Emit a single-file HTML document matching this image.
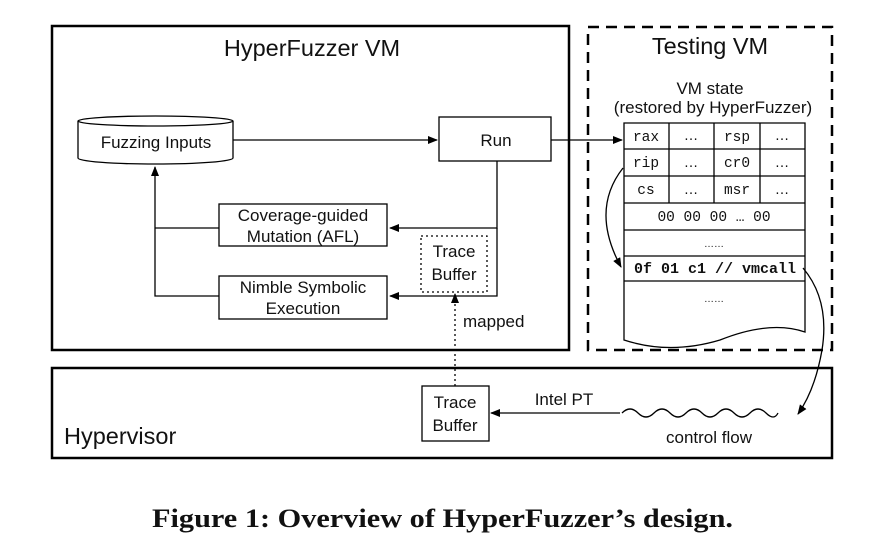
<!DOCTYPE html>
<html><head><meta charset="utf-8"><style>
html,body{margin:0;padding:0;background:#fff;}
svg{display:block;}
text{font-family:"Liberation Sans",sans-serif;fill:#111;}
.m{font-family:"Liberation Mono",monospace;}
</style></head><body>
<svg width="886" height="554" viewBox="0 0 886 554" xmlns="http://www.w3.org/2000/svg">
<defs>
<marker id="a" markerWidth="10" markerHeight="8" refX="9" refY="4" orient="auto" markerUnits="userSpaceOnUse">
<path d="M0,0 L10,4 L0,8 Z" fill="#000"/></marker>
</defs>
<g fill="none" stroke="#000">
<rect x="52" y="26" width="517" height="324" stroke-width="2.5"/>
<rect x="588" y="27" width="244" height="323" stroke-width="2.5" stroke-dasharray="11,7"/>
<rect x="52" y="368" width="780" height="90" stroke-width="2.5"/>
<path d="M78,121 L78,158 A77,6 0 0 0 233,158 L233,121" fill="#fff" stroke-width="1.3"/>
<ellipse cx="155.5" cy="121" rx="77.5" ry="5" fill="#fff" stroke-width="1.3"/>
<rect x="439" y="117" width="112" height="44" stroke-width="1.3"/>
<rect x="219" y="204" width="168" height="42" stroke-width="1.3"/>
<rect x="219" y="276" width="168" height="43" stroke-width="1.3"/>
<rect x="421" y="236" width="66" height="56" stroke-width="1.3" stroke-dasharray="2,3"/>
<rect x="422" y="386" width="67" height="55" stroke-width="1.3"/>
<line x1="233" y1="140" x2="437" y2="140" stroke-width="1.3" marker-end="url(#a)"/>
<polyline points="497,161 497,228 390,228" stroke-width="1.3" marker-end="url(#a)"/>
<polyline points="497,228 497,296 390,296" stroke-width="1.3" marker-end="url(#a)"/>
<polyline points="219,228 155,228" stroke-width="1.3"/>
<polyline points="219,296 155,296 155,167" stroke-width="1.3" marker-end="url(#a)"/>
<line x1="455" y1="386" x2="455" y2="294" stroke-width="1.3" stroke-dasharray="2,3" marker-end="url(#a)"/>
<line x1="551" y1="140" x2="622" y2="140" stroke-width="1.3" marker-end="url(#a)"/>
<path d="M624,123 H805 V332 Q770,320 720,340 Q670,355 624,340 Z" fill="#fff" stroke-width="1.3"/>
<line x1="624" y1="149" x2="805" y2="149" stroke-width="1.3"/>
<line x1="624" y1="176" x2="805" y2="176" stroke-width="1.3"/>
<line x1="624" y1="203" x2="805" y2="203" stroke-width="1.3"/>
<line x1="624" y1="230" x2="805" y2="230" stroke-width="1.3"/>
<line x1="624" y1="256" x2="805" y2="256" stroke-width="1.3"/>
<line x1="624" y1="281" x2="805" y2="281" stroke-width="1.3"/>
<line x1="669" y1="123" x2="669" y2="203" stroke-width="1.3"/>
<line x1="714" y1="123" x2="714" y2="203" stroke-width="1.3"/>
<line x1="760" y1="123" x2="760" y2="203" stroke-width="1.3"/>
<path d="M623,168 Q590,210 621,267" stroke-width="1.3" marker-end="url(#a)"/>
<path d="M803,268 Q830,300 822,350 Q815,390 798,414" stroke-width="1.3" marker-end="url(#a)"/>
<line x1="620" y1="413" x2="491" y2="413" stroke-width="1.3" marker-end="url(#a)"/>
<path d="M622,413 q8,-8 16,0 t16,0 t16,0 t16,0 t16,0 t16,0 t16,0 t16,0 t16,0 t12,0" stroke-width="1.3"/>
</g>
<g font-size="23.5" text-anchor="middle">
<text x="312" y="56">HyperFuzzer VM</text>
<text x="710" y="54">Testing VM</text>
</g>
<text x="64" y="444" font-size="23.5">Hypervisor</text>
<g font-size="17" text-anchor="middle">
<text x="156" y="148">Fuzzing Inputs</text>
<text x="496" y="146">Run</text>
<text x="303" y="221">Coverage-guided</text>
<text x="303" y="242">Mutation (AFL)</text>
<text x="303" y="293">Nimble Symbolic</text>
<text x="303" y="314">Execution</text>
<text x="454" y="257">Trace</text>
<text x="454" y="280">Buffer</text>
<text x="455" y="408">Trace</text>
<text x="455" y="431">Buffer</text>
<text x="564" y="405">Intel PT</text>
<text x="709" y="443">control flow</text>
<text x="710" y="94">VM state</text>
<text x="713" y="113">(restored by HyperFuzzer)</text>
</g>
<text x="463" y="327" font-size="17">mapped</text>
<g font-size="14.5" text-anchor="middle">
<text class="m" x="646" y="141">rax</text><text x="691" y="140">…</text><text class="m" x="737" y="141">rsp</text><text x="782" y="140">…</text>
<text class="m" x="646" y="167">rip</text><text x="691" y="167">…</text><text class="m" x="737" y="167">cr0</text><text x="782" y="167">…</text>
<text class="m" x="646" y="194">cs</text><text x="691" y="194">…</text><text class="m" x="737" y="194">msr</text><text x="782" y="194">…</text>
<text class="m" x="714" y="221">00 00 00 … 00</text>
<text x="714" y="247" font-size="10">……</text>
<text class="m" x="715" y="273" font-weight="bold" font-size="15">0f 01 c1 // vmcall</text>
<text x="714" y="302" font-size="10">……</text>
</g>
<text x="152" y="527" font-size="26" font-weight="bold" textLength="581" lengthAdjust="spacingAndGlyphs" style="font-family:'Liberation Serif',serif">Figure 1: Overview of HyperFuzzer’s design.</text>
</svg>
</body></html>
